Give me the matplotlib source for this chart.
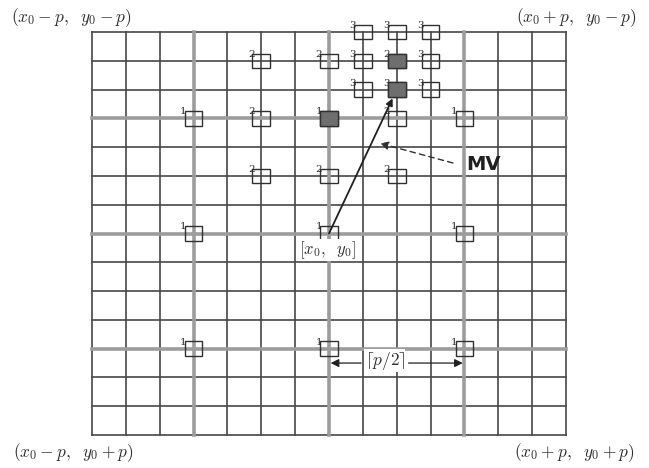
import matplotlib.pyplot as plt
from matplotlib.patches import Rectangle

plt.rcParams['mathtext.fontset'] = 'cm'

# search window half-size and coarse step
p = 7
coarse = [-4, 0, 4]

# search points (grid units, y grows downwards) and the step that visits them
pt_x = [-4, 0, 4, -4, 0, 4, -4, 0, 4,
        -2, 0, 2, -2, 2, -2, 0, 2,
        1, 2, 3, 1, 3, 1, 2, 3]
pt_y = [-4, -4, -4, 0, 0, 0, 4, 4, 4,
        -6, -6, -6, -4, -4, -2, -2, -2,
        -7, -7, -7, -6, -6, -5, -5, -5]
pt_step = [1] * 9 + [2] * 8 + [3] * 8

# best point found after each step
best_x = [0, 2, 2]
best_y = [-4, -6, -5]

corner_labels = [r'$(x_0-p,\;\ y_0-p)$', r'$(x_0+p,\;\ y_0-p)$',
                 r'$(x_0-p,\;\ y_0+p)$', r'$(x_0+p,\;\ y_0+p)$']

fig = plt.figure(figsize=(6.49, 4.68), dpi=100)
ax = fig.add_axes([0, 0, 1, 1])
# map the figure pixels onto grid units
sx, sy = 33.86, 28.79
cx, cy = 329, 233.5
ax.set_xlim(-cx / sx, (649 - cx) / sx)
ax.set_ylim((468 - cy) / sy, -cy / sy)
ax.axis('off')

# grid lines
for k in range(-p, p + 1):
    if k in coarse:
        ax.plot([k, k], [-p, p], color='#9c9c9c', lw=2.6, zorder=2)
        ax.plot([-p, p], [k, k], color='#9c9c9c', lw=2.6, zorder=2)
    else:
        ax.plot([k, k], [-p, p], color='#474747', lw=1.2, zorder=1)
        ax.plot([-p, p], [k, k], color='#474747', lw=1.2, zorder=1)

# search point squares
w, h = 0.52, 0.5
for x, y, s in zip(pt_x, pt_y, pt_step):
    ax.add_patch(Rectangle((x - w / 2, y - h / 2), w, h, facecolor='none',
                           edgecolor='#303030', lw=1.0, zorder=3))
    ax.text(x - w / 2 + 0.06, y - h / 2 + 0.18, str(s), fontsize=7.5, ha='right',
            va='bottom', color='#303030', family='DejaVu Serif', zorder=4)

for x, y in zip(best_x, best_y):
    ax.add_patch(Rectangle((x - w / 2, y - h / 2), w, h, facecolor='#6e6e6e',
                           edgecolor='#303030', lw=1.0, zorder=4))

# motion vector
ax.annotate('', xy=(best_x[-1], best_y[-1]), xytext=(0, 0),
            arrowprops=dict(arrowstyle='-|>', color='#202020', lw=1.3,
                            shrinkA=0, shrinkB=7, mutation_scale=10), zorder=5)
ax.annotate('', xy=(1.51, -3.13), xytext=(3.66, -2.45),
            arrowprops=dict(arrowstyle='-|>', color='#303030', lw=1.0,
                            linestyle=(0, (4, 3)), shrinkA=0, shrinkB=0,
                            mutation_scale=12), zorder=5)
ax.text(4.55, -2.4, 'MV', fontsize=14, fontweight='bold', ha='center',
        va='center', color='#202020', zorder=5)

ax.text(-0.05, 0.58, r'$[x_0,\;\ y_0]$', fontsize=12, ha='center', va='center',
        color='#303030', zorder=5,
        bbox=dict(facecolor='white', edgecolor='none', pad=0.3))

# half-step annotation
ax.text(1.65, 4.42, r'$\lceil p/2 \rceil$', fontsize=12.5, ha='center',
        va='center', color='#303030', zorder=5,
        bbox=dict(facecolor='white', edgecolor='none', pad=0.3))
ax.annotate('', xy=(0.05, 4.5), xytext=(0.95, 4.5),
            arrowprops=dict(arrowstyle='-|>', color='#202020', lw=0.9,
                            shrinkA=0, shrinkB=0, mutation_scale=12), zorder=5)
ax.annotate('', xy=(3.95, 4.5), xytext=(2.35, 4.5),
            arrowprops=dict(arrowstyle='-|>', color='#202020', lw=0.9,
                            shrinkA=0, shrinkB=0, mutation_scale=12), zorder=5)

# corner labels
corner_pos = [(-7.6, -7.5), (7.3, -7.5), (-7.55, 7.6), (7.25, 7.6)]
for (x, y), lab in zip(corner_pos, corner_labels):
    ax.text(x, y, lab, fontsize=12.5, ha='center', va='center', color='#303030')

fig.savefig('out.png', dpi=100)
